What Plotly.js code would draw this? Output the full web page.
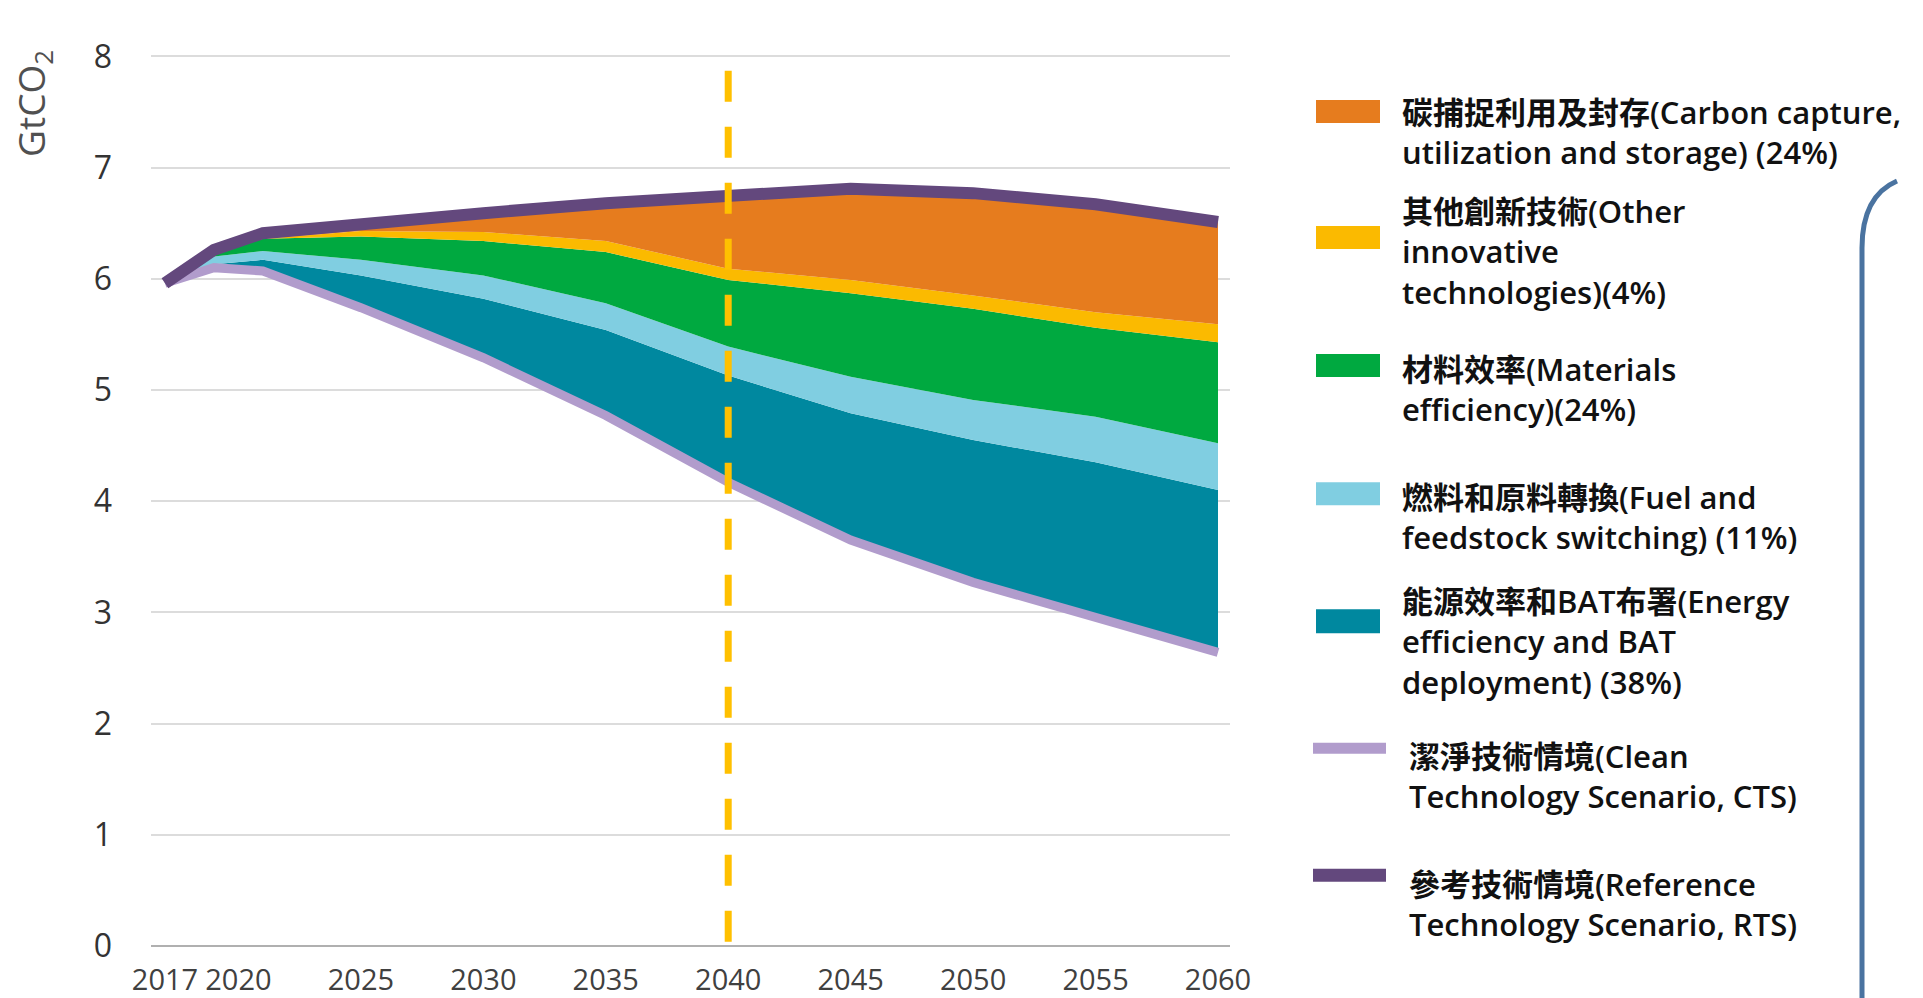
<!DOCTYPE html>
<html>
<head>
<meta charset="utf-8">
<script src="https://cdn.plot.ly/plotly-3.0.1.min.js"></script>
<style>html,body{margin:0;padding:0;background:#fff;}#chart{width:1923px;height:998px;}</style>
</head>
<body>
<div id="chart"></div>
<script>
// ---- data (GtCO2) ----
const years = [2017, 2019, 2021, 2025, 2030, 2035, 2040, 2045, 2050, 2055, 2060];
const ctsLine      = [5.96, 6.10, 6.07, 5.74, 5.29, 4.77, 4.17, 3.65, 3.27, 2.96, 2.64]; // Clean Technology Scenario
const energyTop    = [5.96, 6.13, 6.17, 6.03, 5.82, 5.54, 5.13, 4.79, 4.55, 4.35, 4.10]; // top of energy efficiency & BAT band
const fuelTop      = [5.96, 6.20, 6.25, 6.17, 6.03, 5.78, 5.39, 5.12, 4.91, 4.76, 4.52]; // top of fuel & feedstock switching band
const materialsTop = [5.96, 6.24, 6.36, 6.38, 6.34, 6.24, 5.99, 5.87, 5.73, 5.56, 5.43]; // top of materials efficiency band
const otherTop     = [5.96, 6.24, 6.36, 6.43, 6.42, 6.34, 6.09, 5.99, 5.85, 5.70, 5.59]; // top of other innovative tech band
const rtsLine      = [5.96, 6.26, 6.41, 6.50, 6.59, 6.68, 6.74, 6.81, 6.77, 6.67, 6.51]; // Reference Technology Scenario
const xTickVals = [2017, 2020, 2025, 2030, 2035, 2040, 2045, 2050, 2055, 2060];
const xTickText = ['2017', '2020', '2025', '2030', '2035', '2040', '2045', '2050', '2055', '2060'];
const yTickVals = [0, 1, 2, 3, 4, 5, 6, 7, 8];
const markerYear = 2040;

const legendLabels = [
  '碳捕捉利用及封存(Carbon capture,<br>utilization and storage) (24%)',
  '其他創新技術(Other<br>innovative<br>technologies)(4%)',
  '材料效率(Materials<br>efficiency)(24%)',
  '燃料和原料轉換(Fuel and<br>feedstock switching) (11%)',
  '能源效率和BAT布署(Energy<br>efficiency and BAT<br>deployment) (38%)',
  '潔淨技術情境(Clean<br>Technology Scenario, CTS)',
  '參考技術情境(Reference<br>Technology Scenario, RTS)'
];

// ---- styles ----
const C = {
  ccus: '#E67C1E', other: '#FBBA00', materials: '#00A940', fuel: '#80CEE1',
  energy: '#00889F', cts: '#B19CCC', rts: '#63487D', dash: '#FFC000', bracket: '#4A73A0'
};

// plot area in pixels
const L = 151, R = 1230, T = 23.1, B = 945.6;
const W = 1923, H = 998;
const px = x => (x - L) / (R - L);
const py = y => (B - y) / (B - T);

const area = (y, color) => ({
  x: years, y: y, type: 'scatter', mode: 'lines', fill: 'tonexty',
  fillcolor: color, line: {width: 0, color: color}, hoverinfo: 'skip', showlegend: false
});

const traces = [
  {x: years, y: ctsLine, type: 'scatter', mode: 'lines', line: {width: 0}, hoverinfo: 'skip', showlegend: false},
  area(energyTop, C.energy),
  area(fuelTop, C.fuel),
  area(materialsTop, C.materials),
  area(otherTop, C.other),
  area(rtsLine, C.ccus),
  {x: years, y: ctsLine, type: 'scatter', mode: 'lines', line: {width: 9, color: C.cts}, hoverinfo: 'skip', showlegend: false},
  {x: years, y: rtsLine, type: 'scatter', mode: 'lines', line: {width: 12, color: C.rts}, hoverinfo: 'skip', showlegend: false}
];

const legendFont = {family: '"Open Sans", "Noto Sans CJK TC", sans-serif', size: 31, color: '#111', weight: 600};

// legend: swatches + lines + labels (pixel positions)
const swatches = [
  {color: C.ccus, y0: 100, y1: 123, ty: 132},
  {color: C.other, y0: 226, y1: 249, ty: 251},
  {color: C.materials, y0: 354, y1: 377, ty: 389},
  {color: C.fuel, y0: 482, y1: 505, ty: 517},
  {color: C.energy, y0: 609, y1: 633, ty: 641}
];
const legendLines = [
  {color: C.cts, y: 748, w: 11, ty: 776},
  {color: C.rts, y: 875, w: 13, ty: 904}
];

const shapes = [
  {type: 'line', xref: 'x', yref: 'y', x0: markerYear, x1: markerYear, y0: 7.87, y1: 0,
   line: {color: C.dash, width: 7, dash: '31px,25px'}, layer: 'above'},
  {type: 'path', xref: 'paper', yref: 'paper',
   path: `M ${px(1897)} ${py(181)} Q ${px(1862)} ${py(196)} ${px(1862)} ${py(248)} L ${px(1862)} ${py(1005)}`,
   line: {color: C.bracket, width: 5}}
];
const annotations = [
  {xref: 'paper', yref: 'paper', x: px(33), y: py(104), text: 'GtCO<sub>2</sub>', textangle: -90,
   showarrow: false, xanchor: 'center', yanchor: 'middle',
   font: {family: '"Open Sans", sans-serif', size: 37, color: '#505050'}}
];
swatches.forEach((s, i) => {
  shapes.push({type: 'rect', xref: 'paper', yref: 'paper', x0: px(1316), x1: px(1380), y0: py(s.y1), y1: py(s.y0),
    fillcolor: s.color, line: {width: 0}});
  annotations.push({xref: 'paper', yref: 'paper', x: px(1400), y: py(s.ty), text: legendLabels[i],
    showarrow: false, xanchor: 'left', yanchor: 'middle', align: 'left', font: legendFont});
});
legendLines.forEach((s, i) => {
  shapes.push({type: 'line', xref: 'paper', yref: 'paper', x0: px(1313), x1: px(1386), y0: py(s.y), y1: py(s.y),
    line: {color: s.color, width: s.w}});
  annotations.push({xref: 'paper', yref: 'paper', x: px(1407), y: py(s.ty), text: legendLabels[5 + i],
    showarrow: false, xanchor: 'left', yanchor: 'middle', align: 'left', font: legendFont});
});

const layout = {
  width: W, height: H,
  margin: {l: L, r: W - R, t: T, b: H - B, pad: 0},
  paper_bgcolor: '#ffffff', plot_bgcolor: '#ffffff',
  font: {family: '"Open Sans", "Noto Sans CJK TC", sans-serif', color: '#404040'},
  showlegend: false,
  xaxis: {
    range: [2016.43, 2060.49], tickmode: 'array', tickvals: xTickVals, ticktext: xTickText,
    showgrid: false, zeroline: false, showline: false, ticks: '', automargin: false, tickangle: 0,
    tickfont: {size: 29, color: '#404040'}, ticklabelstandoff: 14
  },
  yaxis: {
    range: [0, 8.3], tickmode: 'array', tickvals: yTickVals,
    showgrid: true, gridcolor: '#dcdcdc', gridwidth: 2,
    zeroline: true, zerolinecolor: '#b0b0b0', zerolinewidth: 2,
    showline: false, ticks: '', automargin: false,
    tickfont: {size: 32, color: '#333333'}, ticklabelstandoff: 38
  },
  shapes: shapes,
  annotations: annotations
};

Plotly.newPlot('chart', traces, layout, {staticPlot: true, displayModeBar: false});
</script>
</body>
</html>
